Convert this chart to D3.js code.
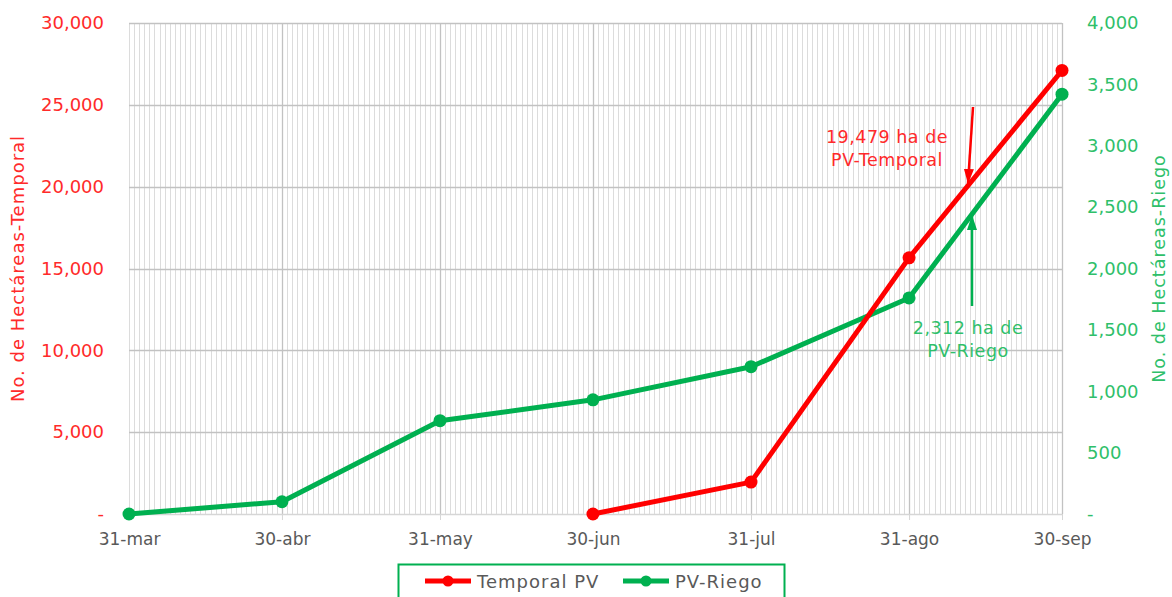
<!DOCTYPE html>
<html>
<head>
	<meta charset="utf-8">
	<title>PV Temporal y Riego</title>
	<script src="https://d3js.org/d3.v7.min.js"></script>
	<style>
		body { margin: 0; background: #fff; }
		text { font-family: "DejaVu Sans", sans-serif; }
	</style>
</head>
<body>
	<script>
		// data
		var dates = ["2019-03-31", "2019-04-30", "2019-05-31", "2019-06-30", "2019-07-31", "2019-08-31", "2019-09-30"];
		var tickLabels = ["31-mar", "30-abr", "31-may", "30-jun", "31-jul", "31-ago", "30-sep"];
		var temporalDates = ["2019-06-30", "2019-07-31", "2019-08-31", "2019-09-30"];
		var temporalValues = [0, 1950, 15650, 27100];
		var riegoValues = [0, 100, 760, 930, 1200, 1760, 3420];
		var leftTicks = [0, 5000, 10000, 15000, 20000, 25000, 30000];
		var rightTicks = [0, 500, 1000, 1500, 2000, 2500, 3000, 3500, 4000];

		var width = 1172, height = 597;
		var margin = {top: 23, right: 110, bottom: 83, left: 129};
		var parse = d3.timeParse("%Y-%m-%d");
		var red = "#ff0000", redText = "#ff2a2a", green = "#00b050", greenText = "#2fbf6a";

		var svg = d3.select("body").append("svg").attr("width", width).attr("height", height);

		var x = d3.scaleTime()
			.domain([parse(dates[0]), parse(dates[dates.length - 1])])
			.range([margin.left, width - margin.right]);
		var yL = d3.scaleLinear().domain([0, 30000]).range([height - margin.bottom, margin.top]);
		var yR = d3.scaleLinear().domain([0, 4000]).range([height - margin.bottom, margin.top]);

		var fmt = function(d){ return d === 0 ? "-" : d3.format(",")(d); };

		// daily minor gridlines
		var days = d3.timeDay.range(x.domain()[0], d3.timeDay.offset(x.domain()[1], 1));
		svg.append("g").selectAll("line").data(days).enter().append("line")
			.attr("x1", function(d){ return Math.round(x(d)) + 0.5; })
			.attr("x2", function(d){ return Math.round(x(d)) + 0.5; })
			.attr("y1", yL(30000)).attr("y2", yL(0))
			.attr("stroke", "#dcdcdc").attr("stroke-width", 1);

		// major gridlines at month ticks
		svg.append("g").selectAll("line").data(dates.slice(1)).enter().append("line")
			.attr("x1", function(d){ return Math.round(x(parse(d))) + 0.5; })
			.attr("x2", function(d){ return Math.round(x(parse(d))) + 0.5; })
			.attr("y1", yL(30000)).attr("y2", yL(0))
			.attr("stroke", "#c2c2c2").attr("stroke-width", 1.3);

		// horizontal gridlines
		svg.append("g").selectAll("line").data(leftTicks).enter().append("line")
			.attr("x1", x.range()[0]).attr("x2", x.range()[1])
			.attr("y1", function(d){ return Math.round(yL(d)) + 0.5; })
			.attr("y2", function(d){ return Math.round(yL(d)) + 0.5; })
			.attr("stroke", function(d){ return d === 0 ? "#d6d6d6" : "#c2c2c2"; })
			.attr("stroke-width", 1.3);

		// x axis
		var xAxis = svg.append("g")
			.attr("transform", "translate(0," + (height - margin.bottom) + ")")
			.call(d3.axisBottom(x).tickValues(dates.map(parse)).tickSize(6).tickPadding(13)
				.tickFormat(function(d, i){ return tickLabels[i]; }));
		xAxis.select(".domain").remove();
		xAxis.selectAll(".tick line").attr("stroke", "#d6d6d6");
		xAxis.selectAll("text").attr("fill", "#595959").style("font-size", "17px")
			.style("font-family", "'DejaVu Sans', sans-serif");

		// left axis
		var lAxis = svg.append("g")
			.attr("transform", "translate(" + (margin.left - 22) + ",0)")
			.call(d3.axisLeft(yL).tickValues(leftTicks).tickSize(0).tickFormat(fmt));
		lAxis.select(".domain").remove();
		lAxis.selectAll("text").attr("fill", redText).style("font-size", "18px")
			.style("font-family", "'DejaVu Sans', sans-serif");

		// right axis
		var rAxis = svg.append("g")
			.attr("transform", "translate(" + (width - margin.right + 22) + ",0)")
			.call(d3.axisRight(yR).tickValues(rightTicks).tickSize(0).tickFormat(fmt));
		rAxis.select(".domain").remove();
		rAxis.selectAll("text").attr("fill", greenText).style("font-size", "18px")
			.style("font-family", "'DejaVu Sans', sans-serif");

		// axis titles
		var midY = (yL(0) + yL(30000)) / 2;
		svg.append("text").attr("transform", "translate(24," + midY + ") rotate(-90)")
			.attr("text-anchor", "middle").attr("fill", redText).style("font-size", "18px")
			.style("letter-spacing", "1px").text("No. de Hectáreas-Temporal");
		svg.append("text").attr("transform", "translate(1165," + midY + ") rotate(-90)")
			.attr("text-anchor", "middle").attr("fill", greenText).style("font-size", "17.5px")
			.style("letter-spacing", "1px").text("No. de Hectáreas-Riego");

		// series
		var riego = dates.map(function(d, i){ return {x: parse(d), y: riegoValues[i]}; });
		var temporal = temporalDates.map(function(d, i){ return {x: parse(d), y: temporalValues[i]}; });

		var lineR = d3.line().x(function(d){ return x(d.x); }).y(function(d){ return yR(d.y); });
		var lineL = d3.line().x(function(d){ return x(d.x); }).y(function(d){ return yL(d.y); });

		svg.append("path").datum(riego).attr("d", lineR)
			.attr("fill", "none").attr("stroke", green).attr("stroke-width", 5).attr("stroke-linejoin", "round");
		svg.append("g").selectAll("circle").data(riego).enter().append("circle")
			.attr("cx", function(d){ return x(d.x); }).attr("cy", function(d){ return yR(d.y); })
			.attr("r", 6.5).attr("fill", green);

		svg.append("path").datum(temporal).attr("d", lineL)
			.attr("fill", "none").attr("stroke", red).attr("stroke-width", 5).attr("stroke-linejoin", "round");
		svg.append("g").selectAll("circle").data(temporal).enter().append("circle")
			.attr("cx", function(d){ return x(d.x); }).attr("cy", function(d){ return yL(d.y); })
			.attr("r", 6.5).attr("fill", red);

		// annotations
		svg.append("defs").selectAll("marker").data([["arrRed", red], ["arrGreen", green]]).enter()
			.append("marker").attr("id", function(d){ return d[0]; })
			.attr("viewBox", "0 0 15 10").attr("refX", 14).attr("refY", 5)
			.attr("markerWidth", 6).attr("markerHeight", 4).attr("orient", "auto")
			.append("path").attr("d", "M0,0L15,5L0,10Z").attr("fill", function(d){ return d[1]; });

		svg.append("line").attr("x1", 973).attr("y1", 107).attr("x2", 968).attr("y2", 183)
			.attr("stroke", red).attr("stroke-width", 2.5).attr("marker-end", "url(#arrRed)");
		svg.append("line").attr("x1", 972).attr("y1", 306).attr("x2", 972).attr("y2", 216)
			.attr("stroke", green).attr("stroke-width", 2.5).attr("marker-end", "url(#arrGreen)");

		var noteT = svg.append("text").attr("text-anchor", "middle").attr("fill", redText)
			.style("font-size", "17.5px").style("letter-spacing", "0.5px");
		noteT.append("tspan").attr("x", 887).attr("y", 143).text("19,479 ha de");
		noteT.append("tspan").attr("x", 887).attr("y", 166).text("PV-Temporal");
		var noteR = svg.append("text").attr("text-anchor", "middle").attr("fill", greenText)
			.style("font-size", "17.5px").style("letter-spacing", "0.5px");
		noteR.append("tspan").attr("x", 968).attr("y", 334).text("2,312 ha de");
		noteR.append("tspan").attr("x", 968).attr("y", 357).text("PV-Riego");

		// legend
		var lg = svg.append("g");
		lg.append("rect").attr("x", 398.5).attr("y", 564.5).attr("width", 386).attr("height", 40)
			.attr("fill", "none").attr("stroke", green).attr("stroke-width", 2);
		var items = [{label: "Temporal PV", color: red, x: 425}, {label: "PV-Riego", color: green, x: 623}];
		items.forEach(function(it){
			lg.append("line").attr("x1", it.x).attr("x2", it.x + 46).attr("y1", 581).attr("y2", 581)
				.attr("stroke", it.color).attr("stroke-width", 5);
			lg.append("circle").attr("cx", it.x + 23).attr("cy", 581).attr("r", 5.5).attr("fill", it.color);
			lg.append("text").attr("x", it.x + 52).attr("y", 588).attr("fill", "#595959")
				.style("font-size", "18px").style("letter-spacing", "1px").text(it.label);
		});
	</script>
</body>
</html>
